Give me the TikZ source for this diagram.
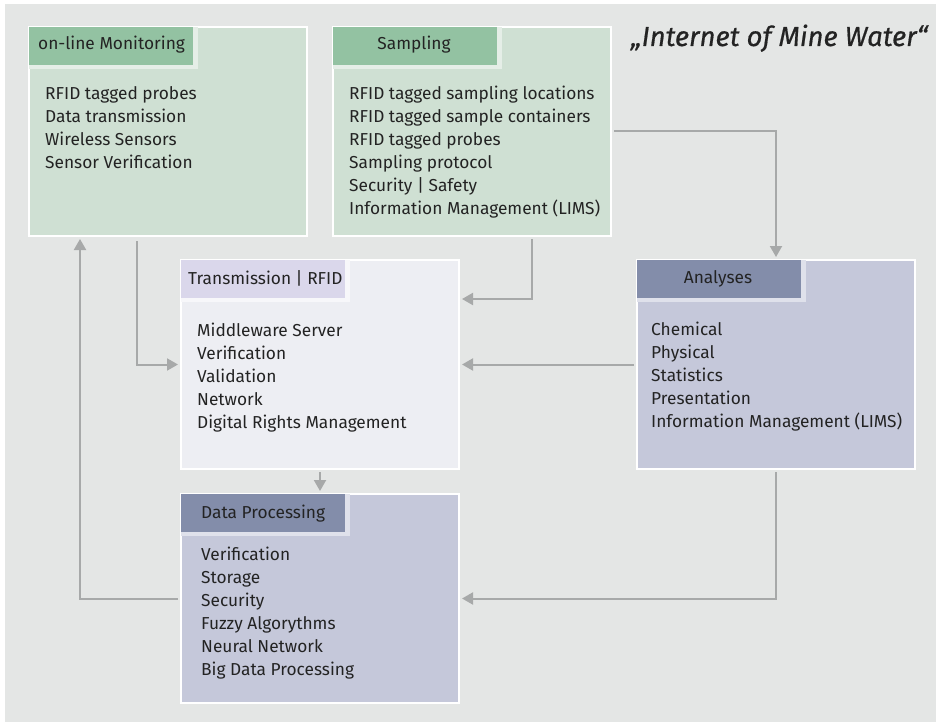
\documentclass[tikz,border=0pt]{standalone}
\usepackage{fontspec}
\setmainfont{Fira Sans}
\newfontfamily\titlefont[FakeBold=0.6]{Fira Sans}
\usetikzlibrary{arrows.meta}

\definecolor{pagegrey}{HTML}{E4E6E5}
\definecolor{greenbox}{HTML}{CFE0D3}
\definecolor{greenhead}{HTML}{93C2A2}
\definecolor{lilabox}{HTML}{EDEEF3}
\definecolor{lilahead}{HTML}{DAD7EB}
\definecolor{bluebox}{HTML}{C5C8DA}
\definecolor{bluehead}{HTML}{838DAA}
\definecolor{ink}{HTML}{232323}
\definecolor{linegrey}{HTML}{A7A9A9}

% stacked list of lines, baseline = first line
\newcommand{\linestack}[1]{\vtop{\hsize=300pt\parindent=0pt\baselineskip=23pt\lineskiplimit=-100pt\raggedright #1\par}}

\tikzset{
  panel/.style={rectangle, anchor=north west, inner sep=0pt, draw=white,
    line width=2pt, minimum width=278pt, minimum height=209pt},
  tabstrip/.style={rectangle, anchor=north west, inner sep=0pt,
    minimum width=169pt, minimum height=42pt},
  tabhead/.style={rectangle, anchor=north west, inner sep=0pt,
    minimum width=164pt, minimum height=38pt},
  headtext/.style={font=\fontsize{17.3}{20}\selectfont, text=ink, inner sep=0pt},
  bodytext/.style={font=\fontsize{17.3}{23}\selectfont, text=ink, inner sep=0pt,
    anchor=base west},
  conn/.style={draw=linegrey, line width=2pt,
    -{Triangle[length=11pt,width=12pt]}}
}

\begin{document}
\begin{tikzpicture}[x=1pt,y=-1pt]
  \useasboundingbox (0,0) rectangle (936,722);
  \fill[white] (0,0) rectangle (936,722);
  \fill[pagegrey] (5,4) rectangle (936,722);

  % on-line monitoring
  \node[panel, fill=greenbox] (mon) at (28,26) {};
  \node[tabstrip, fill=white!45!greenbox] (monstrip) at (29,27) {};
  \node[tabhead, fill=greenhead] (monhead) at (29,27) {};
  \node[headtext, anchor=base west] (montitle) at (38,50) {on-line Monitoring};
  \node[bodytext] (monlist) at (45,100) {\linestack{RFID tagged probes\\
    Data transmission\\ Wireless Sensors\\ Sensor Verification}};

  % sampling
  \node[panel, fill=greenbox] (samp) at (332,26) {};
  \node[tabstrip, fill=white!45!greenbox] (sampstrip) at (333,27) {};
  \node[tabhead, fill=greenhead] (samphead) at (333,27) {};
  \node[headtext, anchor=base] (samptitle) at (414,50) {Sampling};
  \node[bodytext] (samplist) at (349,100) {\linestack{RFID tagged sampling locations\\
    RFID tagged sample containers\\ RFID tagged probes\\ Sampling protocol\\
    Security | Safety\\ Information Management (LIMS)}};

  % title
  \node[font=\titlefont\itshape\fontsize{27.5}{30}\selectfont, text=ink,
    inner sep=0pt, anchor=base east] (title) at (928,46) {„Internet of Mine Water“};

  % transmission
  \node[panel, fill=lilabox] (trans) at (180,259) {};
  \node[tabstrip, fill=white!55!lilabox] (transstrip) at (181,260) {};
  \node[tabhead, fill=lilahead] (transhead) at (181,260) {};
  \node[headtext, anchor=base west] (transtitle) at (188,284) {Transmission | RFID};
  \node[bodytext] (translist) at (197,336) {\linestack{Middleware Server\\
    Verification\\ Validation\\ Network\\ Digital Rights Management}};

  % analyses
  \node[panel, fill=bluebox] (anal) at (636,259) {};
  \node[tabstrip, fill=white!45!bluebox] (analstrip) at (637,260) {};
  \node[tabhead, fill=bluehead] (analhead) at (637,260) {};
  \node[headtext, anchor=base] (analtitle) at (718,283) {Analyses};
  \node[bodytext] (anallist) at (651,335) {\linestack{Chemical\\ Physical\\
    Statistics\\ Presentation\\ Information Management (LIMS)}};

  % data processing
  \node[panel, fill=bluebox] (dp) at (180,493) {};
  \node[tabstrip, fill=white!45!bluebox] (dpstrip) at (181,494) {};
  \node[tabhead, fill=bluehead] (dphead) at (181,494) {};
  \node[headtext, anchor=base west] (dptitle) at (201,518) {Data Processing};
  \node[bodytext] (dplist) at (201,560) {\linestack{Verification\\ Storage\\
    Security\\ Fuzzy Algorythms\\ Neural Network\\ Big Data Processing}};

  % connectors
  \draw[conn, shorten <=4pt, shorten >=2pt]
    ([xshift=109pt]mon.south west) |- (trans.west);
  \draw[conn, shorten <=2pt, shorten >=2pt]
    ([xshift=200pt]samp.south west) |- ([yshift=-40pt]trans.north east);
  \draw[conn, shorten <=2pt, shorten >=2pt]
    ([yshift=-105pt]samp.north east) -| (anal.north);
  \draw[conn, shorten <=2pt, shorten >=2pt]
    (anal.west) -- (anal.west -| trans.east);
  \draw[conn, shorten <=2pt, shorten >=2pt]
    (trans.south) -- (dp.north);
  \draw[conn, shorten <=2pt, shorten >=2pt]
    (anal.south) |- (dp.east);
  \draw[conn, shorten <=2pt, shorten >=2pt]
    (dp.west) -| ([xshift=52pt]mon.south west);
\end{tikzpicture}
\end{document}
